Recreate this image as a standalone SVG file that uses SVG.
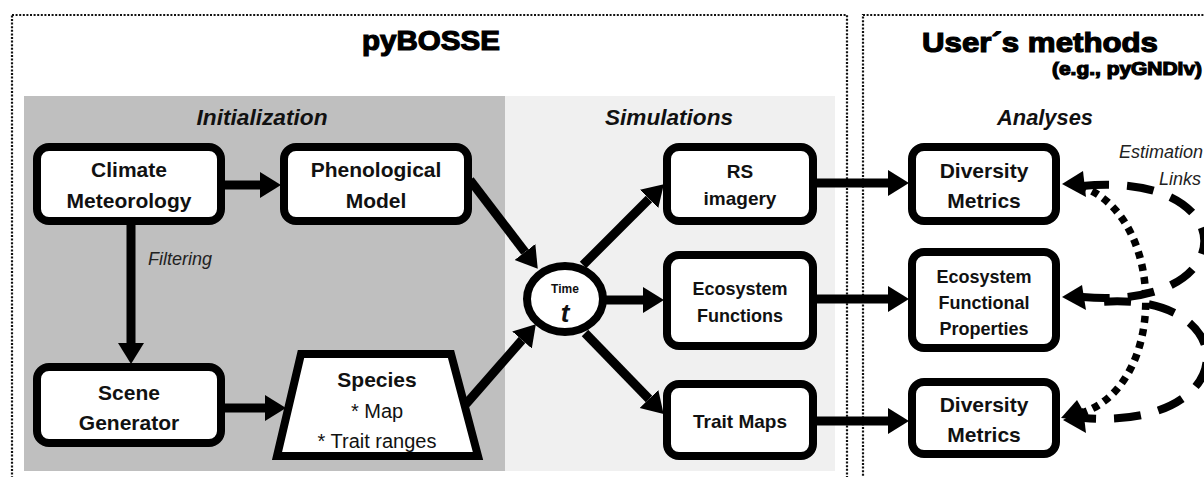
<svg xmlns="http://www.w3.org/2000/svg" width="1204" height="477" viewBox="0 0 1204 477">
  <style>
    .frame { fill: none; stroke: #111; stroke-width: 2.2; stroke-dasharray: 2 1.6; }
    .box { fill: #fff; stroke: #000; stroke-width: 8; }
    .lbl { font-family: "Liberation Sans", Arial, sans-serif; font-weight: bold; fill: #111; text-anchor: middle; }
    .plain { font-family: "Liberation Sans", Arial, sans-serif; fill: #111; text-anchor: middle; }
    .sect { font-family: "Liberation Sans", Arial, sans-serif; font-weight: bold; font-style: italic; font-size: 22px; fill: #111; text-anchor: middle; }
    .title { font-family: "Liberation Sans", Arial, sans-serif; font-weight: bold; fill: #000; stroke: #000; stroke-width: 1.2; }
    .note { font-family: "Liberation Sans", Arial, sans-serif; font-style: italic; font-size: 18px; fill: #222; }
    .conn { fill: none; stroke: #000; stroke-width: 9; marker-end: url(#head); }
    .dash { fill: none; stroke: #000; stroke-width: 8; stroke-dasharray: 27 18; }
    .dots { fill: none; stroke: #000; stroke-width: 7.5; stroke-dasharray: 7 6; }
  </style>
  <defs>
    <marker id="head" markerUnits="userSpaceOnUse" markerWidth="22" markerHeight="28" refX="0" refY="13" orient="auto">
      <path d="M0,0 L21,13 L0,26 z" fill="#000"/>
    </marker>
  </defs>

  <rect width="1204" height="477" fill="#fff"/>

  <!-- shaded work areas -->
  <rect x="24" y="96" width="481" height="375" fill="#bfbfbf"/>
  <rect x="505" y="96" width="330" height="375" fill="#f0f0f0"/>

  <!-- dotted frames -->
  <rect class="frame" x="12" y="15" width="835" height="500"/>
  <rect class="frame" x="863" y="15" width="400" height="500"/>

  <!-- headings -->
  <text class="title" x="362" y="50" font-size="28" textLength="138" lengthAdjust="spacingAndGlyphs">pyBOSSE</text>
  <text class="title" x="922" y="52" font-size="28" textLength="236" lengthAdjust="spacingAndGlyphs">User´s methods</text>
  <text class="title" x="1052" y="75" font-size="18" stroke-width="0.35" textLength="150" lengthAdjust="spacingAndGlyphs">(e.g., pyGNDiv)</text>
  <text class="sect" x="262" y="125" textLength="131" lengthAdjust="spacingAndGlyphs">Initialization</text>
  <text class="sect" x="669" y="125" textLength="128" lengthAdjust="spacingAndGlyphs">Simulations</text>
  <text class="sect" x="1045" y="125" textLength="96" lengthAdjust="spacingAndGlyphs">Analyses</text>
  <text class="note" x="148" y="265">Filtering</text>
  <text class="note" x="1203" y="158" text-anchor="end">Estimation</text>
  <text class="note" x="1201" y="185" text-anchor="end">Links</text>

  <!-- connectors -->
  <g id="connectors">
    <path class="conn" d="M225,185 L260,185"/>
    <path class="conn" d="M131,225 L131,343"/>
    <path class="conn" d="M225,408 L265,408"/>
    <path class="conn" d="M470,180 L525,252"/>
    <path class="conn" d="M466,404 L522,340"/>
    <path class="conn" d="M583,265 L649,199"/>
    <path class="conn" d="M605,300 L643,300"/>
    <path class="conn" d="M585,333 L649,399"/>
    <path class="conn" d="M817,183 L888,183"/>
    <path class="conn" d="M817,299 L888,299"/>
    <path class="conn" d="M817,421 L888,421"/>
    <!-- estimation links -->
    <path class="dash" d="M1082,186 C1245,170 1245,312 1082,297"/>
    <path class="dash" d="M1100,302 C1245,290 1245,430 1084,418" stroke-dashoffset="-4"/>
    <path class="dots" d="M1080,186 C1168,215 1168,390 1078,414"/>
    <polygon points="1062,184 1083,171 1086,197" fill="#000"/>
    <polygon points="1062,297 1082,285 1086,310" fill="#000"/>
    <polygon points="1061,418 1077,400 1089,421" fill="#000"/>
    <polygon points="1063,420 1083,408 1086,433" fill="#000"/>
  </g>

  <!-- initialization -->
  <g id="climate">
    <rect class="box" x="37" y="147" width="184" height="74" rx="12"/>
    <text class="lbl" x="129" y="177" font-size="21">Climate</text>
    <text class="lbl" x="129" y="208" font-size="21">Meteorology</text>
  </g>
  <g id="phenological">
    <rect class="box" x="284" y="147" width="184" height="74" rx="12"/>
    <text class="lbl" x="376" y="177" font-size="21">Phenological</text>
    <text class="lbl" x="376" y="208" font-size="21">Model</text>
  </g>
  <g id="scene">
    <rect class="box" x="37" y="367" width="184" height="76" rx="12"/>
    <text class="lbl" x="129" y="400" font-size="21">Scene</text>
    <text class="lbl" x="129" y="430" font-size="21">Generator</text>
  </g>
  <g id="species">
    <polygon class="box" points="301,354 451,354 478,456 277,456"/>
    <text class="lbl" x="377" y="387" font-size="21">Species</text>
    <text class="plain" x="377" y="418" font-size="20">* Map</text>
    <text class="plain" x="377" y="448" font-size="20">* Trait ranges</text>
  </g>

  <!-- simulations -->
  <g id="time">
    <ellipse cx="565" cy="299" rx="38" ry="33" fill="#fff" stroke="#000" stroke-width="8"/>
    <text class="lbl" x="565" y="293" font-size="12">Time</text>
    <text class="lbl" x="565" y="322" font-size="26" font-style="italic">t</text>
  </g>
  <g id="rs">
    <rect class="box" x="667" y="147" width="146" height="74" rx="12"/>
    <text class="lbl" x="740" y="178" font-size="19">RS</text>
    <text class="lbl" x="740" y="205" font-size="19">imagery</text>
  </g>
  <g id="ecofun">
    <rect class="box" x="667" y="255" width="146" height="91" rx="12"/>
    <text class="lbl" x="740" y="295" font-size="18">Ecosystem</text>
    <text class="lbl" x="740" y="322" font-size="18">Functions</text>
  </g>
  <g id="traits">
    <rect class="box" x="667" y="384" width="146" height="72" rx="12"/>
    <text class="lbl" x="740" y="428" font-size="19">Trait Maps</text>
  </g>

  <!-- analyses -->
  <g id="div1">
    <rect class="box" x="912" y="147" width="144" height="74" rx="12"/>
    <text class="lbl" x="984" y="178" font-size="21">Diversity</text>
    <text class="lbl" x="984" y="208" font-size="21">Metrics</text>
  </g>
  <g id="efp">
    <rect class="box" x="912" y="252" width="144" height="96" rx="12"/>
    <text class="lbl" x="984" y="283" font-size="18">Ecosystem</text>
    <text class="lbl" x="984" y="309" font-size="18">Functional</text>
    <text class="lbl" x="984" y="335" font-size="18">Properties</text>
  </g>
  <g id="div2">
    <rect class="box" x="912" y="382" width="144" height="72" rx="12"/>
    <text class="lbl" x="984" y="412" font-size="21">Diversity</text>
    <text class="lbl" x="984" y="442" font-size="21">Metrics</text>
  </g>
</svg>
